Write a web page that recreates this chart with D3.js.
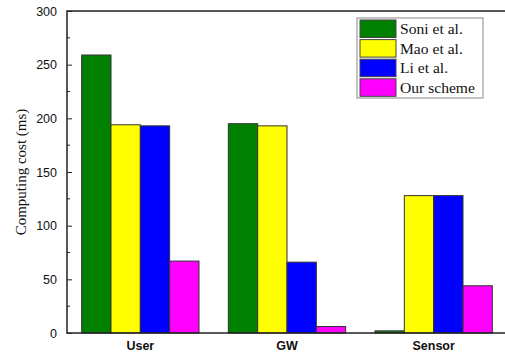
<!DOCTYPE html>
<html>
<head>
<meta charset="utf-8">
<script src="https://cdn.jsdelivr.net/npm/d3@7"></script>
<style>
  html, body { margin: 0; padding: 0; background: #fff; }
  svg { display: block; }
</style>
</head>
<body>
<svg id="chart" width="505" height="354"></svg>
<script>
// Computing cost per entity (ms)
const categories = ["User", "GW", "Sensor"];
const seriesNames = ["Soni et al.", "Mao et al.", "Li et al.", "Our scheme"];
const seriesColors = ["#008000", "#ffff00", "#0000ff", "#ff00ff"];
const soni = [259, 195, 2];
const mao = [194, 193, 128];
const li = [193, 66, 128];
const ours = [67, 6, 44];
const yTicks = [0, 50, 100, 150, 200, 250, 300];

const seriesValues = [soni, mao, li, ours];

const svg = d3.select("#chart");
const plot = { left: 67, top: 11, right: 507, bottom: 333 };

const x = d3.scaleBand().domain(categories).range([plot.left, plot.right]).padding(0);
const xSub = d3.scaleBand().domain(seriesNames)
  .range([0, x.bandwidth() * 0.8]).padding(0);
const y = d3.scaleLinear().domain([0, 300]).range([plot.bottom, plot.top]);

// bars
const rows = categories.map((c, i) => ({ cat: c, vals: seriesNames.map((s, j) => ({ s, j, v: seriesValues[j][i] })) }));
const groups = svg.append("g").selectAll("g").data(rows).join("g")
  .attr("transform", d => `translate(${x(d.cat) + x.bandwidth() * 0.1},0)`);
groups.selectAll("rect").data(d => d.vals).join("rect")
  .attr("x", d => xSub(d.s))
  .attr("width", xSub.bandwidth())
  .attr("y", d => y(d.v))
  .attr("height", d => y(0) - y(d.v))
  .attr("fill", d => seriesColors[d.j])
  .attr("stroke", "#333")
  .attr("stroke-width", 1);

// frame
svg.append("rect")
  .attr("x", plot.left).attr("y", plot.top)
  .attr("width", plot.right - plot.left + 10).attr("height", plot.bottom - plot.top)
  .attr("fill", "none").attr("stroke", "#222").attr("stroke-width", 1.5);

// y axis with inward ticks
const yAxis = d3.axisLeft(y).tickValues(yTicks).tickSizeInner(-5).tickSizeOuter(0).tickPadding(10);
const ya = svg.append("g").attr("transform", `translate(${plot.left},0)`).call(yAxis);
ya.select(".domain").remove();
ya.selectAll(".tick line").attr("stroke", "#222");
ya.selectAll("text").attr("font-family", "Liberation Sans, Arial, sans-serif")
  .attr("font-size", 12.5).attr("fill", "#111");

// minor ticks
const minor = d3.range(25, 300, 50);
svg.append("g").selectAll("line").data(minor).join("line")
  .attr("x1", plot.left).attr("x2", plot.left + 3)
  .attr("y1", d => y(d)).attr("y2", d => y(d))
  .attr("stroke", "#222");

// category labels
const xAxis = d3.axisBottom(x).tickSize(0).tickPadding(8);
const xa = svg.append("g").attr("transform", `translate(0,${plot.bottom})`).call(xAxis);
xa.select(".domain").remove();
xa.selectAll("text").attr("font-family", "Liberation Sans, Arial, sans-serif")
  .attr("font-size", 12.5).attr("font-weight", "bold").attr("fill", "#111");

// y axis title
svg.append("text")
  .attr("transform", `translate(26,${(plot.top + plot.bottom) / 2}) rotate(-90)`)
  .attr("text-anchor", "middle")
  .attr("font-family", "Liberation Serif, Times New Roman, serif")
  .attr("font-size", 15).attr("fill", "#111")
  .text("Computing cost (ms)");

// legend
const lg = svg.append("g").attr("transform", "translate(357,18)");
lg.append("rect").attr("width", 126).attr("height", 80)
  .attr("fill", "#fff").attr("stroke", "#888").attr("stroke-width", 1);
const items = lg.selectAll("g").data(seriesNames).join("g")
  .attr("transform", (d, i) => `translate(3,${2 + i * 19.6})`);
items.append("rect").attr("width", 36).attr("height", 17.5)
  .attr("fill", (d, i) => seriesColors[i]).attr("stroke", "#444").attr("stroke-width", 1);
items.append("text").attr("x", 40).attr("y", 14)
  .attr("font-family", "Liberation Serif, Times New Roman, serif")
  .attr("font-size", 15.6).attr("fill", "#111").text(d => d);
</script>
</body>
</html>
